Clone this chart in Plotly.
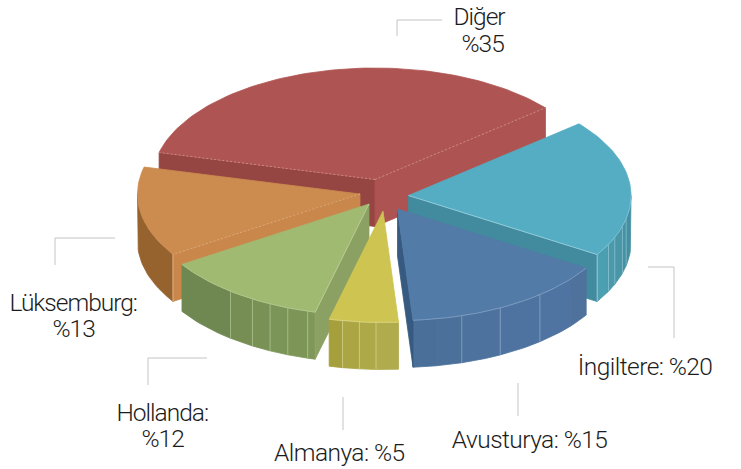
import math
import plotly.graph_objects as go

# ---- data ----
names = ["Diğer", "İngiltere", "Avusturya", "Almanya", "Hollanda", "Lüksemburg"]
shares = [35, 20, 15, 5, 12, 13]

# ---- geometry / style ----
W, H = 741, 469
RX, RY, DEPTH = 222.5, 111.5, 47
START = 166
tips = {"Diğer": (375, 179.5), "İngiltere": (408.5, 195.5), "Avusturya": (397.5, 209),
        "Almanya": (383, 211), "Lüksemburg": (360, 194), "Hollanda": (369, 204)}
top_col = {"Diğer": "#ae5452", "İngiltere": "#54adc3", "Avusturya": "#537ba8",
           "Almanya": "#cdc452", "Lüksemburg": "#cc8b4f", "Hollanda": "#a1ba71"}
# visible radial faces: (which edge, colour)
faces = {"Diğer": [("start", "#954542"), ("end", "#ad5351")],
         "İngiltere": [("end", "#428a9d")],
         "Avusturya": [("end", "#365a80")],
         "Almanya": [],
         "Lüksemburg": [("start", "#c9874c")],
         "Hollanda": [("start", "#8ba163")]}
edge_col = {"Diğer": "rgba(235,205,195,0.75)", "İngiltere": "rgba(215,238,243,0.8)",
            "Avusturya": None, "Lüksemburg": "rgba(235,200,165,0.8)",
            "Hollanda": "rgba(220,230,200,0.7)"}
# facet break angles on the outer rim and their colours (from first to last)
rim = {"İngiltere": ([-32, -26, -22, -16, -12, 0],
                     ["#4b9fb1", "#4a9aac", "#4896a8", "#4692a4", "#458fa1"]),
       "Avusturya": ([-32, -39, -50.2, -62.5, -73.2, -80, -86],
                     ["#4f729d", "#4f74a1", "#4e73a0", "#4d729d", "#4b709a", "#4a6f98"]),
       "Almanya": ([-86, -91.8, -96.1, -100.5, -104],
                   ["#b0ab4c", "#aea948", "#aba544", "#a59f3c"]),
       "Lüksemburg": ([-147.2, -180], ["#96632f"]),
       "Hollanda": ([-104, -106, -111.4, -116.4, -121.6, -128.5, -147.2],
                    ["#7f9859", "#7d9658", "#7b9457", "#799155", "#768e53", "#6f8851"])}
rim_line = {"İngiltere": "rgba(160,210,222,0.75)", "Avusturya": "rgba(160,185,210,0.75)",
            "Almanya": "rgba(225,222,160,0.8)", "Hollanda": "rgba(190,208,160,0.8)"}
order = ["Diğer", "İngiltere", "Lüksemburg", "Hollanda", "Avusturya", "Almanya"]
leaders = [[(397, 36), (397, 20), (442, 20)],
           [(648, 267), (674, 267), (674, 338)],
           [(518, 383), (518, 416)],
           [(343, 397), (343, 430)],
           [(148, 385), (148, 358), (207, 358)],
           [(55, 265), (55, 238), (115, 238)]]
text_pos = {"Diğer": [(479, 16), (482, 43)],
            "İngiltere": [(645, 366)],
            "Avusturya": [(529, 439)],
            "Almanya": [(339, 452)],
            "Hollanda": [(162, 412), (162, 438)],
            "Lüksemburg": [(73, 302), (73, 328)]}
FONT = dict(family="Roboto, sans-serif", size=24.5, color="#1c1c1c", weight=300)

# angular spans come from the shares (clockwise from START)
spans, a = {}, START
for n, s in zip(names, shares):
    spans[n] = (a, a - s * 3.6)
    a -= s * 3.6


def pt(n, ang, dz=0):
    cx, cy = tips[n]
    t = math.radians(ang)
    return cx + RX * math.cos(t), cy - RY * math.sin(t) + dz


def arc(n, a0, a1, dz=0):
    k = max(2, int(abs(a1 - a0) / 1.5) + 1)
    return [pt(n, a0 + (a1 - a0) * i / (k - 1), dz) for i in range(k)]


fig = go.Figure()


def poly(points, fill, line=None, lw=0.8):
    xs = [p[0] for p in points] + [points[0][0]]
    ys = [p[1] for p in points] + [points[0][1]]
    fig.add_trace(go.Scatter(x=xs, y=ys, mode="lines", fill="toself", fillcolor=fill,
                             line=dict(color=line or fill, width=lw),
                             hoverinfo="skip", showlegend=False))


def stroke(points, color, lw=0.8, dash=None):
    fig.add_trace(go.Scatter(x=[p[0] for p in points], y=[p[1] for p in points], mode="lines",
                             line=dict(color=color, width=lw, dash=dash),
                             hoverinfo="skip", showlegend=False))


for n in order:
    a0, a1 = spans[n]
    tip = tips[n]
    # rim facets
    if n in rim:
        breaks, cols = rim[n]
        for i, c in enumerate(cols):
            top = arc(n, breaks[i], breaks[i + 1])
            bot = arc(n, breaks[i + 1], breaks[i], DEPTH)
            poly(top + bot, c)
        if n in rim_line:
            for b in breaks[1:-1]:
                if b not in (-80, -39):
                    stroke([pt(n, b), pt(n, b, DEPTH)], rim_line[n], 0.8)
    # radial faces
    for side, c in faces[n]:
        ang = a0 if side == "start" else a1
        e = pt(n, ang)
        poly([tip, e, (e[0], e[1] + DEPTH), (tip[0], tip[1] + DEPTH)], c)
    # top face
    poly([tip] + arc(n, a0, a1), top_col[n])
    # thin light front edge of the rim
    if n in rim_line:
        stroke(arc(n, rim[n][0][0], rim[n][0][-1]), rim_line[n], 0.7)
    # light edges on the top of visible faces
    for side, c in faces[n]:
        ang = a0 if side == "start" else a1
        e = pt(n, ang)
        if edge_col.get(n):
            stroke([tip, e], edge_col[n], 0.6, "2px,2px" if n in ("Diğer", "Lüksemburg") else None)
        if n in ("Lüksemburg", "İngiltere"):
            stroke([e, (e[0], e[1] + DEPTH)], edge_col[n], 0.8)

for seg in leaders:
    stroke(seg, "#c4c4c4", 1)

ann = []
for n, s in zip(names, shares):
    pos = text_pos[n]
    if n == "Diğer":
        lines = [n, f"%{s}"]
    elif len(pos) == 2:
        lines = [n + ":", f"%{s}"]
    else:
        lines = [f"{n}: %{s}"]
    for t, (x, y) in zip(lines, pos):
        ann.append(dict(x=x, y=y, text=t, showarrow=False, xanchor="center", yanchor="middle",
                        font=FONT))

fig.update_layout(
    width=W, height=H, margin=dict(l=0, r=0, t=0, b=0), paper_bgcolor="white", plot_bgcolor="white",
    xaxis=dict(range=[0, W], visible=False, fixedrange=True),
    yaxis=dict(range=[H, 0], visible=False, fixedrange=True),
    showlegend=False, annotations=ann)
fig.write_html(
    "out.html",
    post_script=("document.body.style.margin='0';document.body.style.overflow='hidden';"
                 "document.querySelectorAll('.annotation-text').forEach(function(t){"
                 "var s=t.textContent;"
                 "t.style.letterSpacing=(s.indexOf(':')>=0&&s.indexOf('%')>=0)?'-0.55px':'-1px';});"),
    config={"displayModeBar": False})
